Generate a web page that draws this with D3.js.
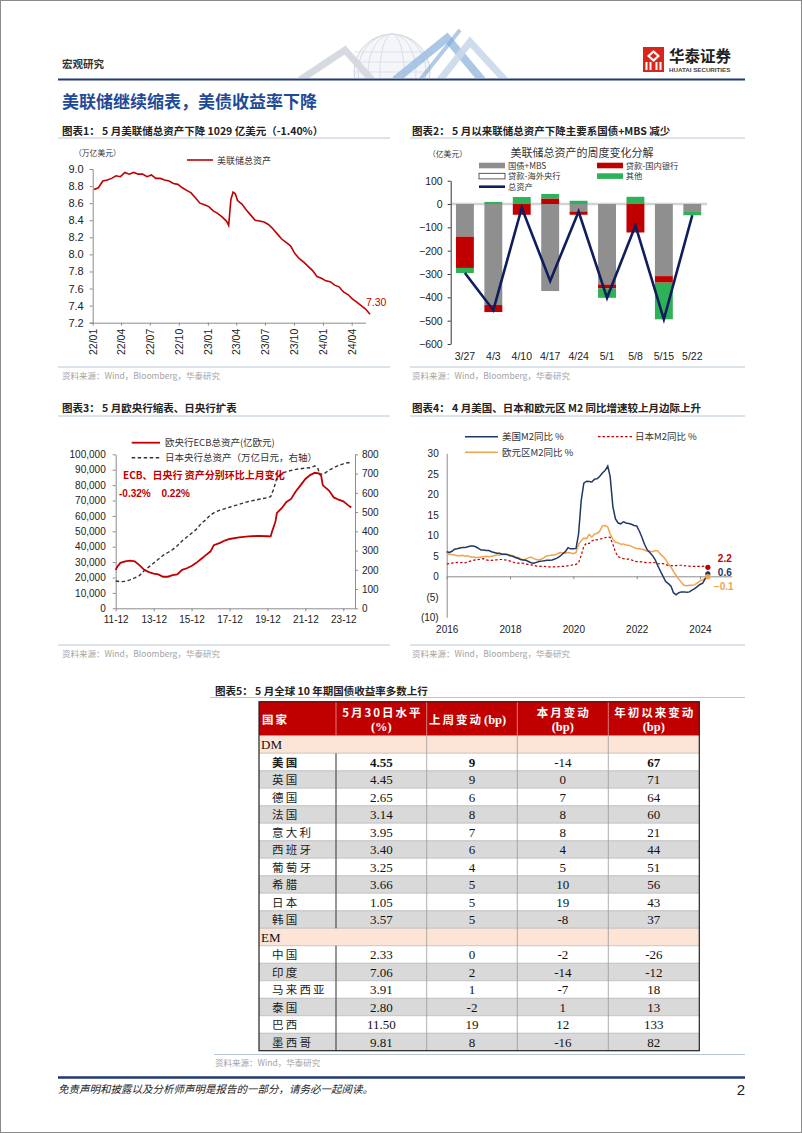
<!DOCTYPE html>
<html><head><meta charset="utf-8">
<script src="https://cdn.jsdelivr.net/npm/d3@7"></script>
<style>body{margin:0;background:#fff}svg{display:block}</style>
</head><body>
<svg id="page" width="802" height="1133"></svg>
<script>
// ---------------- DATA ----------------
// Chart 1: Fed total assets (trillion USD)
const fedDates = ["2022-01-05","2022-01-19","2022-02-02","2022-02-16","2022-03-02","2022-03-16","2022-03-30","2022-04-13","2022-04-27","2022-05-11","2022-05-25","2022-06-08","2022-06-22","2022-07-06","2022-07-20","2022-08-03","2022-08-17","2022-08-31","2022-09-14","2022-09-28","2022-10-12","2022-10-26","2022-11-09","2022-11-23","2022-12-07","2022-12-21","2023-01-04","2023-01-18","2023-02-01","2023-02-15","2023-03-01","2023-03-08","2023-03-15","2023-03-22","2023-03-29","2023-04-05","2023-04-19","2023-05-03","2023-05-17","2023-05-31","2023-06-14","2023-06-28","2023-07-12","2023-07-26","2023-08-09","2023-08-23","2023-09-06","2023-09-20","2023-10-04","2023-10-18","2023-11-01","2023-11-15","2023-11-29","2023-12-13","2023-12-27","2024-01-10","2024-01-24","2024-02-07","2024-02-21","2024-03-06","2024-03-20","2024-04-03","2024-04-17","2024-05-01","2024-05-15","2024-05-29"];
const fedAssets = [8.76,8.78,8.86,8.87,8.89,8.92,8.91,8.96,8.94,8.96,8.94,8.94,8.91,8.93,8.89,8.89,8.87,8.86,8.83,8.82,8.78,8.75,8.72,8.66,8.60,8.58,8.56,8.51,8.48,8.44,8.39,8.34,8.64,8.73,8.71,8.63,8.59,8.52,8.46,8.40,8.39,8.38,8.35,8.30,8.24,8.18,8.14,8.10,8.01,7.95,7.91,7.86,7.81,7.74,7.72,7.69,7.68,7.64,7.62,7.56,7.53,7.48,7.44,7.40,7.36,7.30];
const fedTickLabels = ["22/01","22/04","22/07","22/10","23/01","23/04","23/07","23/10","24/01","24/04"];

// Chart 2: weekly change decomposition (100 million USD)
const weeks = ["3/27","4/3","4/10","4/17","4/24","5/1","5/8","5/15","5/22"];
const treasuryMBS   = [-140,-433,0,-373,-32,-345,0,-309,-34];
const loansDomestic = [-134,-30,-46,24,-14,-17,-122,-28,0];
const loansForeign  = [0,0,0,0,0,0,0,0,0];
const otherItems    = [-22,9,30,19,14,-40,31,-157,-14];
const totalAssets   = [-296,-455,-16,-330,-32,-402,-92,-494,-48];

// Chart 3: ECB (100m EUR, left) and BOJ (trillion JPY, right)
const ecbDates = ["2011-12","2012-01","2012-03","2012-06","2012-09","2012-12","2013-03","2013-06","2013-09","2013-12","2014-03","2014-06","2014-09","2014-12","2015-03","2015-06","2015-09","2015-12","2016-03","2016-06","2016-09","2016-12","2017-02","2017-06","2017-09","2017-12","2018-06","2018-12","2019-06","2019-12","2020-02","2020-03","2020-05","2020-06","2020-09","2020-12","2021-03","2021-06","2021-09","2021-12","2022-03","2022-06","2022-09","2022-10","2022-11","2022-12","2023-03","2023-06","2023-09","2023-12","2024-03","2024-05"];
const ecbAssets = [25000,27000,29500,30500,31000,30500,28000,25000,23500,22500,22000,20500,20500,21500,22000,25000,26000,27500,29500,32000,34500,37000,41000,42500,44000,45000,46000,46700,47000,46800,46700,50000,56000,62000,65000,69000,71000,76000,80000,84000,86500,88000,87500,86000,80000,79000,76500,72000,70500,69500,67000,65500];
const bojDates = ["2011-12","2012-03","2012-06","2012-09","2012-12","2013-03","2013-06","2013-09","2013-12","2014-03","2014-06","2014-09","2014-12","2015-03","2015-06","2015-09","2015-12","2016-03","2016-06","2016-09","2016-12","2017-03","2017-06","2017-12","2018-06","2018-12","2019-06","2019-12","2020-02","2020-04","2020-06","2020-09","2020-12","2021-06","2021-12","2022-03","2022-06","2022-08","2022-09","2022-12","2023-03","2023-06","2023-09","2023-12","2024-03","2024-05"];
const bojAssets = [142,138,140,148,158,170,195,215,235,255,275,290,305,325,350,370,390,410,440,460,485,500,510,525,540,555,565,575,580,620,680,700,710,722,728,730,740,725,695,700,718,730,742,750,757,752];
const ecbTickLabels = ["11-12","13-12","15-12","17-12","19-12","21-12","23-12"];

// Chart 4: M2 YoY %, monthly from 2016-01 to 2024-04
const usM2 = [6.0,5.8,6.1,6.6,6.7,6.9,7.0,7.0,7.2,7.4,7.4,7.2,
  6.8,6.4,6.4,6.3,6.3,6.0,5.8,5.6,5.6,5.4,5.4,5.3,
  5.0,4.9,4.6,4.4,4.1,4.0,3.9,3.6,3.3,3.2,3.4,3.6,
  3.7,3.8,3.9,3.9,4.0,4.2,4.5,4.9,5.5,6.0,7.0,6.7,
  6.7,6.8,10.3,18.5,22.7,23.2,23.1,23.0,23.7,23.8,24.4,25.2,
  25.8,26.9,24.3,17.0,14.0,13.0,12.8,13.3,13.0,12.9,12.7,12.4,
  12.3,11.0,9.6,7.8,6.5,5.8,5.1,4.1,2.6,1.3,0.0,-1.3,
  -1.8,-2.4,-4.0,-4.5,-4.0,-3.8,-3.8,-3.9,-3.8,-3.4,-3.0,-2.5,
  -2.0,-1.7,-0.6,0.6];
const jpM2 = [3.0,3.1,3.2,3.3,3.4,3.3,3.4,3.3,3.5,3.7,3.9,4.0,
  4.1,4.2,4.3,4.0,3.9,3.9,4.0,4.0,4.1,4.1,4.0,3.9,
  3.7,3.5,3.3,3.2,3.2,3.2,3.0,2.9,2.8,2.7,2.5,2.4,
  2.4,2.4,2.3,2.3,2.3,2.3,2.3,2.4,2.4,2.4,2.6,2.7,
  2.8,2.9,3.3,5.1,7.3,8.1,8.0,8.6,9.0,8.9,9.1,9.2,
  9.4,9.6,9.5,7.8,5.9,4.8,4.5,4.3,4.2,4.2,4.0,3.7,
  3.6,3.6,3.5,3.4,3.3,3.3,3.4,3.3,3.0,3.1,3.1,2.9,
  2.6,2.6,2.6,2.6,2.7,2.7,2.6,2.5,2.5,2.4,2.4,2.4,
  2.4,2.4,2.5,2.2];
const euM2 = [5.5,5.4,5.3,5.2,5.0,5.0,5.1,4.9,5.0,4.7,4.7,4.6,
  4.6,4.7,4.8,4.9,4.8,4.9,5.0,5.2,5.2,5.3,5.4,5.3,
  5.2,5.0,4.8,4.6,4.3,4.0,4.2,4.5,4.7,4.3,4.1,4.0,
  4.2,4.6,5.0,5.1,5.2,5.2,5.5,5.8,5.7,5.6,5.8,5.7,
  5.5,5.8,7.8,8.7,9.3,9.2,10.2,9.6,10.3,10.5,11.0,12.3,
  12.4,12.0,10.3,9.0,8.3,8.2,7.8,7.9,7.6,7.6,7.3,7.0,
  6.8,6.7,6.6,6.4,6.1,6.1,6.0,6.3,6.2,5.4,4.8,4.1,
  3.0,2.3,1.2,0.2,-0.7,-1.5,-2.2,-2.3,-2.2,-2.2,-2.1,-1.6,
  -1.1,-0.9,-0.5,-0.1];
const m2TickLabels = ["2016","2018","2020","2022","2024"];

// Table 5: 10Y government bond yields
const dmCountries = ["美国","英国","德国","法国","意大利","西班牙","葡萄牙","希腊","日本","韩国"];
const dmLevel = [4.55,4.45,2.65,3.14,3.95,3.40,3.25,3.66,1.05,3.57];
const dmWeek  = [9,9,6,8,7,6,4,5,5,5];
const dmMonth = [-14,0,7,8,8,4,5,10,19,-8];
const dmYtd   = [67,71,64,60,21,44,51,56,43,37];
const emCountries = ["中国","印度","马来西亚","泰国","巴西","墨西哥"];
const emLevel = [2.33,7.06,3.91,2.80,11.50,9.81];
const emWeek  = [0,2,1,-2,19,8];
const emMonth = [-2,-14,-7,1,12,-16];
const emYtd   = [-26,-12,18,13,133,82];

// ---------------- DRAW ----------------
const CJK = "'Noto Sans CJK SC','Noto Sans',sans-serif";
const LAT = "'Liberation Sans',Arial,sans-serif";
const SER = "'Liberation Serif','Times New Roman',serif";
const RED = "#c00000";
const svg = d3.select("#page");

function txt(x, y, s, o = {}) {
  const t = svg.append("text").attr("x", x).attr("y", y).text(s)
    .attr("font-family", o.ff || CJK).attr("font-size", o.fs || 10)
    .attr("fill", o.fill || "#222");
  if (o.fw) t.attr("font-weight", o.fw);
  if (o.anchor) t.attr("text-anchor", o.anchor);
  if (o.ls) t.attr("letter-spacing", o.ls);
  if (o.style) t.attr("font-style", o.style);
  return t;
}
function hline(x1, x2, y, c, w) {
  svg.append("line").attr("x1", x1).attr("x2", x2).attr("y1", y).attr("y2", y)
    .attr("stroke", c).attr("stroke-width", w);
}
function styleAxis(g, color, ff, fs) {
  g.selectAll("path,line").attr("stroke", color);
  g.selectAll("text").attr("font-family", ff).attr("font-size", fs).attr("fill", "#222");
}

// page border
svg.append("rect").attr("x", 0.5).attr("y", 0.5).attr("width", 801).attr("height", 1132)
  .attr("fill", "none").attr("stroke", "#8a8a8a");

// header decoration (globe + zigzag)
const deco = svg.append("g");
deco.append("clipPath").attr("id", "hdrclip").append("rect").attr("x", 280).attr("y", 20).attr("width", 260).attr("height", 58);
const dg = deco.append("g").attr("clip-path", "url(#hdrclip)");
dg.append("circle").attr("cx", 392).attr("cy", 72).attr("r", 38).attr("fill", "#f4f6f9").attr("stroke", "#cfd6df");
[12, 24, 34].forEach(rx => dg.append("ellipse").attr("cx", 392).attr("cy", 72).attr("rx", rx).attr("ry", 38).attr("fill", "none").attr("stroke", "#d8dee6"));
[52, 62, 72].forEach(y => dg.append("line").attr("x1", 354).attr("x2", 430).attr("y1", y).attr("y2", y).attr("stroke", "#dde2e9"));
dg.append("polyline").attr("points", "300,80 345,50 372,80").attr("fill", "none").attr("stroke", "#d5dae1").attr("stroke-width", 7);
dg.append("polyline").attr("points", "395,80 447,38 482,80").attr("fill", "none").attr("stroke", "#9dbde0").attr("stroke-width", 8).attr("opacity", 0.85);
dg.append("polyline").attr("points", "440,80 470,42 505,80").attr("fill", "none").attr("stroke", "#c9d8ea").attr("stroke-width", 7).attr("opacity", 0.9);
dg.append("polyline").attr("points", "420,80 460,30").attr("fill", "none").attr("stroke", "#7ea6d4").attr("stroke-width", 4).attr("opacity", 0.6);

txt(62, 68, "宏观研究", {fs: 10.5, fw: "bold", fill: "#333"});
hline(58, 745, 79.5, "#1f3a73", 2);
txt(62, 108, "美联储继续缩表，美债收益率下降", {fs: 17, fw: "bold", fill: "#1e4a97"});

// logo
const logo = svg.append("g");
logo.append("rect").attr("x", 643).attr("y", 47).attr("width", 21).attr("height", 25).attr("fill", "#d9261c");
logo.append("polygon").attr("points", "653.5,50 660,56 653.5,62 647,56").attr("fill", "#fff");
logo.append("polygon").attr("points", "653.5,53 657,56 653.5,59 650,56").attr("fill", "#d9261c");
[646.5, 650.5, 656.5, 660.5].forEach(x => logo.append("rect").attr("x", x - 1).attr("y", 62).attr("width", 2).attr("height", 8).attr("fill", "#fff"));
txt(669, 62, "华泰证券", {fs: 15.5, fw: "bold", fill: "#222"});
txt(669, 71.5, "HUATAI SECURITIES", {ff: LAT, fs: 6.2, fw: "bold", fill: "#444"});

// ---------- chart titles / sources ----------
const TF = 10.5;
txt(62, 134.5, "图表1：  5 月美联储总资产下降 1029 亿美元（-1.40%）", {fs: TF, fw: "bold"});
hline(58, 390, 138, "#b9c6d4", 1);
txt(412, 134.5, "图表2：  5 月以来联储总资产下降主要系国债+MBS 减少", {fs: TF, fw: "bold"});
hline(410, 745, 138, "#b9c6d4", 1);
hline(58, 390, 367, "#b9c6d4", 1);
txt(62, 379, "资料来源：Wind，Bloomberg，华泰研究", {fs: 8.5, fill: "#a3a3a3"});
hline(410, 745, 367, "#b9c6d4", 1);
txt(412, 379, "资料来源：Wind，Bloomberg，华泰研究", {fs: 8.5, fill: "#a3a3a3"});

txt(62, 412, "图表3：  5 月欧央行缩表、日央行扩表", {fs: TF, fw: "bold"});
hline(58, 390, 416, "#b9c6d4", 1);
txt(412, 412, "图表4：  4 月美国、日本和欧元区 M2 同比增速较上月边际上升", {fs: TF, fw: "bold"});
hline(410, 745, 416, "#b9c6d4", 1);
hline(58, 390, 645, "#b9c6d4", 1);
txt(62, 657, "资料来源：Wind，Bloomberg，华泰研究", {fs: 8.5, fill: "#a3a3a3"});
hline(410, 745, 645, "#b9c6d4", 1);
txt(412, 657, "资料来源：Wind，Bloomberg，华泰研究", {fs: 8.5, fill: "#a3a3a3"});

// ---------- Chart 1 ----------
(function () {
  const parse = d3.timeParse("%Y-%m-%d");
  const pts = fedDates.map((d, i) => ({d: parse(d), v: fedAssets[i]}));
  const x = d3.scaleTime().domain([new Date(2022, 0, 1), new Date(2024, 3, 1)]).range([92.7, 351.7]);
  const y = d3.scaleLinear().domain([7.2, 9.0]).range([322.7, 169]);
  const fmtTick = d3.timeFormat("%y/%m");
  const tickDates = fedTickLabels.map(s => d3.timeParse("%y/%m")(s));
  const gy = svg.append("g").attr("transform", "translate(92.7,0)")
    .call(d3.axisLeft(y).tickValues(d3.range(0, 10).map(i => 7.2 + i * 0.2)).tickFormat(d3.format(".1f")).tickSize(3).tickPadding(6));
  styleAxis(gy, "#8c8c8c", LAT, 11);
  const gx = svg.append("g").attr("transform", "translate(0,322.7)")
    .call(d3.axisBottom(x).tickValues(tickDates).tickFormat(fmtTick).tickSize(3).tickSizeOuter(0));
  gx.select(".domain").attr("d", "M92.7,0.5H366");
  styleAxis(gx, "#8c8c8c", LAT, 10.5);
  gx.selectAll("text").attr("transform", "rotate(-90)").attr("text-anchor", "end")
    .attr("x", -6).attr("y", 0).attr("dy", "0.35em");
  svg.append("path").datum(pts).attr("fill", "none").attr("stroke", RED).attr("stroke-width", 1.6)
    .attr("d", d3.line().x(p => x(p.d)).y(p => y(p.v)));
  const last = pts[pts.length - 1];
  txt(x(last.d) - 4, y(last.v) - 8, d3.format(".2f")(last.v), {ff: LAT, fs: 10.5, fill: RED});
  txt(74, 156, "（万亿美元）", {fs: 7.8, fill: "#333"});
  hline(187, 213, 160, RED, 1.6);
  txt(217, 163.5, "美联储总资产", {fs: 9, fill: "#333"});
})();

// ---------- Chart 2 ----------
(function () {
  const x = d3.scaleBand().domain(weeks).range([450.7, 706.5]).paddingInner(0.37).paddingOuter(0.185);
  const y = d3.scaleLinear().domain([-600, 100]).range([344, 180.7]);
  const series = [
    {name: "国债+MBS", vals: treasuryMBS, fill: "#8f8f8f", stroke: "none"},
    {name: "贷款-国内银行", vals: loansDomestic, fill: RED, stroke: "none"},
    {name: "贷款-海外央行", vals: loansForeign, fill: "#fff", stroke: "#333"},
    {name: "其他", vals: otherItems, fill: "#2db257", stroke: "none"}
  ];
  svg.append("line").attr("x1", 450.7).attr("x2", 707).attr("y1", y(0)).attr("y2", y(0)).attr("stroke", "#d3d3d3").attr("stroke-width", 2.5);
  const stacks = [];
  weeks.forEach((w, i) => {
    let pos = 0, neg = 0;
    series.forEach(s => {
      const v = s.vals[i];
      if (v === 0) return;
      let y0, y1;
      if (v > 0) { y0 = pos; y1 = pos + v; pos = y1; } else { y0 = neg; y1 = neg + v; neg = y1; }
      stacks.push({w, y0, y1, s});
    });
  });
  svg.append("g").selectAll("rect").data(stacks).join("rect")
    .attr("x", d => x(d.w)).attr("width", x.bandwidth())
    .attr("y", d => y(Math.max(d.y0, d.y1))).attr("height", d => Math.abs(y(d.y0) - y(d.y1)))
    .attr("fill", d => d.s.fill).attr("stroke", d => d.s.stroke);
  svg.append("path").datum(totalAssets).attr("fill", "none").attr("stroke", "#0f1d5c").attr("stroke-width", 2.6)
    .attr("stroke-linejoin", "miter")
    .attr("d", d3.line().x((d, i) => x(weeks[i]) + x.bandwidth() / 2).y(d => y(d)));
  const gy = svg.append("g").attr("transform", "translate(450.7,0)")
    .call(d3.axisLeft(y).tickValues(d3.range(-600, 101, 100)).tickSize(3).tickSizeOuter(0).tickPadding(5));
  styleAxis(gy, "#333", LAT, 10.5);
  const gx = svg.append("g").attr("transform", "translate(0,344)")
    .call(d3.axisBottom(x).tickSize(0).tickPadding(9));
  gx.select(".domain").remove();
  styleAxis(gx, "#333", LAT, 10.5);
  txt(582, 157, "美联储总资产的周度变化分解", {fs: 11, anchor: "middle", fill: "#333"});
  txt(428, 157, "（亿美元）", {fs: 7.8, fill: "#333"});
  const leg = [[479, 162.7, 0, 508, 168.5], [597, 162.7, 1, 625.7, 168.5], [479, 173.3, 2, 508, 179], [597, 173.3, 3, 625.7, 179]];
  leg.forEach(([rx, ry, si, tx, ty]) => {
    const s = series[si];
    svg.append("rect").attr("x", rx).attr("y", ry).attr("width", 26).attr("height", 5.6)
      .attr("fill", s.fill).attr("stroke", s.stroke === "none" ? "none" : "#333").attr("stroke-width", 0.8);
    txt(tx, ty, s.name, {fs: 8.3, fill: "#333"});
  });
  hline(479, 505, 186.7, "#0f1d5c", 2.6);
  txt(508, 189.8, "总资产", {fs: 8.3, fill: "#333"});
})();

// ---------- Chart 3 ----------
(function () {
  const parse = d3.timeParse("%Y-%m");
  const ecb = ecbDates.map((d, i) => ({d: parse(d), v: ecbAssets[i]}));
  const boj = bojDates.map((d, i) => ({d: parse(d), v: bojAssets[i]}));
  const x = d3.scaleTime().domain([new Date(2011, 11, 1), new Date(2023, 11, 1)]).range([115.7, 343.3]);
  const yl = d3.scaleLinear().domain([0, 100000]).range([608.3, 454.3]);
  const yr = d3.scaleLinear().domain([0, 800]).range([608.3, 454.3]);
  const gl = svg.append("g").attr("transform", "translate(115.7,0)")
    .call(d3.axisLeft(yl).tickValues(d3.range(0, 100001, 10000)).tickFormat(d3.format(",")).tickSize(3).tickSizeOuter(0).tickPadding(7));
  styleAxis(gl, "#8c8c8c", LAT, 10);
  const gr = svg.append("g").attr("transform", "translate(355,0)")
    .call(d3.axisRight(yr).tickValues(d3.range(0, 801, 100)).tickSize(3).tickSizeOuter(0).tickPadding(4));
  styleAxis(gr, "#8c8c8c", LAT, 10);
  const tickDates = ecbTickLabels.map(s => d3.timeParse("%y-%m")(s));
  const gx = svg.append("g").attr("transform", "translate(0,608.3)")
    .call(d3.axisBottom(x).tickValues(tickDates).tickFormat(d3.timeFormat("%y-%m")).tickSize(3).tickSizeOuter(0).tickPadding(5));
  gx.select(".domain").attr("d", "M115.7,0.5H355");
  styleAxis(gx, "#8c8c8c", LAT, 10);
  svg.append("path").datum(boj).attr("fill", "none").attr("stroke", "#333").attr("stroke-width", 1.4)
    .attr("stroke-dasharray", "3.5,2.5").attr("d", d3.line().x(p => x(p.d)).y(p => yr(p.v)));
  svg.append("path").datum(ecb).attr("fill", "none").attr("stroke", RED).attr("stroke-width", 1.8)
    .attr("d", d3.line().x(p => x(p.d)).y(p => yl(p.v)));
  hline(131.7, 160, 442.7, RED, 1.8);
  txt(165, 446, "欧央行ECB总资产(亿欧元)", {fs: 9.5, fill: "#333"});
  svg.append("line").attr("x1", 131.7).attr("x2", 160).attr("y1", 457.7).attr("y2", 457.7)
    .attr("stroke", "#333").attr("stroke-width", 1.4).attr("stroke-dasharray", "3.5,2.5");
  txt(165, 461, "日本央行总资产（万亿日元，右轴）", {fs: 9.5, fill: "#333"});
  txt(123, 479, "ECB、日央行 资产分别环比上月变化", {fs: 10, fw: "bold", fill: RED});
  txt(119, 496.5, "-0.32%", {ff: LAT, fs: 10, fw: "bold", fill: RED});
  txt(161.5, 496.5, "0.22%", {ff: LAT, fs: 10, fw: "bold", fill: RED});
})();

// ---------- Chart 4 ----------
(function () {
  const start = new Date(2016, 0, 1);
  const dateAt = i => d3.timeMonth.offset(start, i);
  const x = d3.scaleTime().domain([start, new Date(2025, 0, 1)]).range([446.7, 731.7]);
  const y = d3.scaleLinear().domain([-10, 30]).range([617.3, 453.3]);
  const fmt = d => d < 0 ? "(" + (-d) + ")" : String(d);
  const gy = svg.append("g").attr("transform", "translate(446.7,0)")
    .call(d3.axisLeft(y).tickValues(d3.range(-10, 31, 5)).tickFormat(fmt).tickSize(0).tickPadding(8));
  styleAxis(gy, "#8c8c8c", LAT, 10);
  const tickDates = m2TickLabels.map(s => new Date(+s, 0, 1));
  const gx = svg.append("g").attr("transform", "translate(0," + y(0) + ")")
    .call(d3.axisBottom(x).tickValues(tickDates).tickFormat(d3.timeFormat("%Y")).tickSize(3).tickSizeOuter(0));
  styleAxis(gx, "#8c8c8c", LAT, 10);
  gx.selectAll("text").attr("y", 633 - y(0)).attr("dy", 0);
  const line = d3.line().x((d, i) => x(dateAt(i))).y(d => y(d));
  svg.append("path").datum(jpM2).attr("fill", "none").attr("stroke", RED).attr("stroke-width", 1.2).attr("stroke-dasharray", "2.5,2").attr("d", line);
  svg.append("path").datum(euM2).attr("fill", "none").attr("stroke", "#f4a24e").attr("stroke-width", 1.5).attr("d", line);
  svg.append("path").datum(usM2).attr("fill", "none").attr("stroke", "#1f3864").attr("stroke-width", 1.5).attr("d", line);
  const ends = [
    {arr: jpM2, c: RED, dy: -5, dx: 0},
    {arr: usM2, c: "#1f3864", dy: 2.5, dx: 0},
    {arr: euM2, c: "#f4a24e", dy: 13, dx: -4}
  ];
  ends.forEach(e => {
    const i = e.arr.length - 1;
    const px = x(dateAt(i)), py = y(e.arr[i]);
    svg.append("circle").attr("cx", px).attr("cy", py).attr("r", 2.6).attr("fill", e.c);
    txt(px + 10 + e.dx, py + e.dy, d3.format(".1f")(e.arr[i]), {ff: LAT, fs: 10, fw: "bold", fill: e.c});
  });
  hline(465, 498, 436.7, "#1f3864", 1.6);
  txt(502, 440, "美国M2同比 %", {fs: 9.5, fill: "#333"});
  svg.append("line").attr("x1", 598).attr("x2", 632).attr("y1", 436.7).attr("y2", 436.7)
    .attr("stroke", RED).attr("stroke-width", 1.2).attr("stroke-dasharray", "2.5,2");
  txt(635, 440, "日本M2同比 %", {fs: 9.5, fill: "#333"});
  hline(465, 498, 452.3, "#f4a24e", 1.6);
  txt(502, 456, "欧元区M2同比 %", {fs: 9.5, fill: "#333"});
})();

// ---------- Table 5 ----------
(function () {
  txt(215, 695, "图表5：  5 月全球 10 年期国债收益率多数上行", {fs: TF, fw: "bold"});
  hline(210, 745, 697.5, "#b9c6d4", 1);
  const cols = [259, 336, 426.7, 517.3, 608.3, 699.3];
  const top = 701.7, hdrBot = 735.7;
  const rows = [];
  const addGroup = (label, names, lv, wk, mo, yt) => {
    rows.push({group: true, label});
    names.forEach((n, i) => rows.push({name: n, vals: [d3.format(".2f")(lv[i]), wk[i], mo[i], yt[i]], bold: n === "美国"}));
  };
  addGroup("DM", dmCountries, dmLevel, dmWeek, dmMonth, dmYtd);
  addGroup("EM", emCountries, emLevel, emWeek, emMonth, emYtd);
  const ry = d3.scaleLinear().domain([0, rows.length]).range([hdrBot, 1050.7]);
  const rh = ry(1) - ry(0);
  svg.append("rect").attr("x", cols[0]).attr("y", top).attr("width", cols[5] - cols[0]).attr("height", hdrBot - top).attr("fill", RED);
  let dataIdx = 0;
  rows.forEach((r, i) => {
    let fill;
    if (r.group) { fill = "#fce4d6"; dataIdx = 0; } else { fill = dataIdx % 2 === 0 ? "#ffffff" : "#d9d9d9"; dataIdx++; }
    svg.append("rect").attr("x", cols[0]).attr("y", ry(i)).attr("width", cols[5] - cols[0]).attr("height", rh).attr("fill", fill);
  });
  rows.forEach((r, i) => { if (i > 0) hline(cols[0], cols[5], ry(i), "#a6a6a6", 0.6); });
  for (let c = 1; c < 5; c++) {
    svg.append("line").attr("x1", cols[c]).attr("x2", cols[c]).attr("y1", top).attr("y2", hdrBot).attr("stroke", "#e59a9a").attr("stroke-width", 0.8);
    rows.forEach((r, i) => {
      if (r.group && c === 1) return;
      svg.append("line").attr("x1", cols[c]).attr("x2", cols[c]).attr("y1", ry(i)).attr("y2", ry(i + 1))
        .attr("stroke", c === 1 ? "#404040" : "#999").attr("stroke-width", c === 1 ? 1.1 : 0.8);
    });
  }
  svg.append("rect").attr("x", cols[0]).attr("y", top).attr("width", cols[5] - cols[0]).attr("height", 1050.7 - top)
    .attr("fill", "none").attr("stroke", "#222").attr("stroke-width", 1.2);
  const mid = c => (cols[c] + cols[c + 1]) / 2;
  const H = {fs: 11.5, fw: "bold", fill: "#fff", ls: 2};
  txt(262, 724, "国家", Object.assign({}, H));
  txt(mid(1) + 1, 716.5, "5月30日水平", Object.assign({anchor: "middle"}, H));
  txt(mid(1), 731, "(%)", {ff: SER, fs: 12.5, fw: "bold", fill: "#fff", anchor: "middle"});
  txt(mid(2) + 11, 724, "上周变动", Object.assign({anchor: "end"}, H));
  txt(mid(2) + 12, 724, "(bp)", {ff: SER, fs: 12.5, fw: "bold", fill: "#fff"});
  txt(mid(3) + 1, 716.5, "本月变动", Object.assign({anchor: "middle"}, H));
  txt(mid(3), 731, "(bp)", {ff: SER, fs: 12.5, fw: "bold", fill: "#fff", anchor: "middle"});
  txt(mid(4) + 1, 716.5, "年初以来变动", Object.assign({anchor: "middle"}, H));
  txt(mid(4), 731, "(bp)", {ff: SER, fs: 12.5, fw: "bold", fill: "#fff", anchor: "middle"});
  rows.forEach((r, i) => {
    const by = ry(i) + rh / 2 + 4.6;
    if (r.group) { txt(261, by, r.label, {ff: SER, fs: 13, fill: "#111"}); return; }
    txt(272, by, r.name, {fs: 11.5, ls: 2.2, fill: "#222", fw: r.bold ? "bold" : null});
    r.vals.forEach((v, k) => {
      const bold = r.bold && k !== 2;
      txt(mid(k + 1), by, String(v), {ff: SER, fs: 13, fill: "#111", anchor: "middle", fw: bold ? "bold" : null});
    });
  });
  hline(214, 745, 1054.5, "#b9c6d4", 1);
  txt(215, 1066, "资料来源：Wind，华泰研究", {fs: 8.5, fill: "#a3a3a3"});
})();

// ---------- footer ----------
hline(58, 745, 1077.5, "#1f3a73", 2.5);
txt(58, 1093, "免责声明和披露以及分析师声明是报告的一部分，请务必一起阅读。", {fs: 10.5, style: "italic", fill: "#222"});
txt(745, 1095, "2", {ff: LAT, fs: 15, anchor: "end", fill: "#222"});
</script>
</body></html>
